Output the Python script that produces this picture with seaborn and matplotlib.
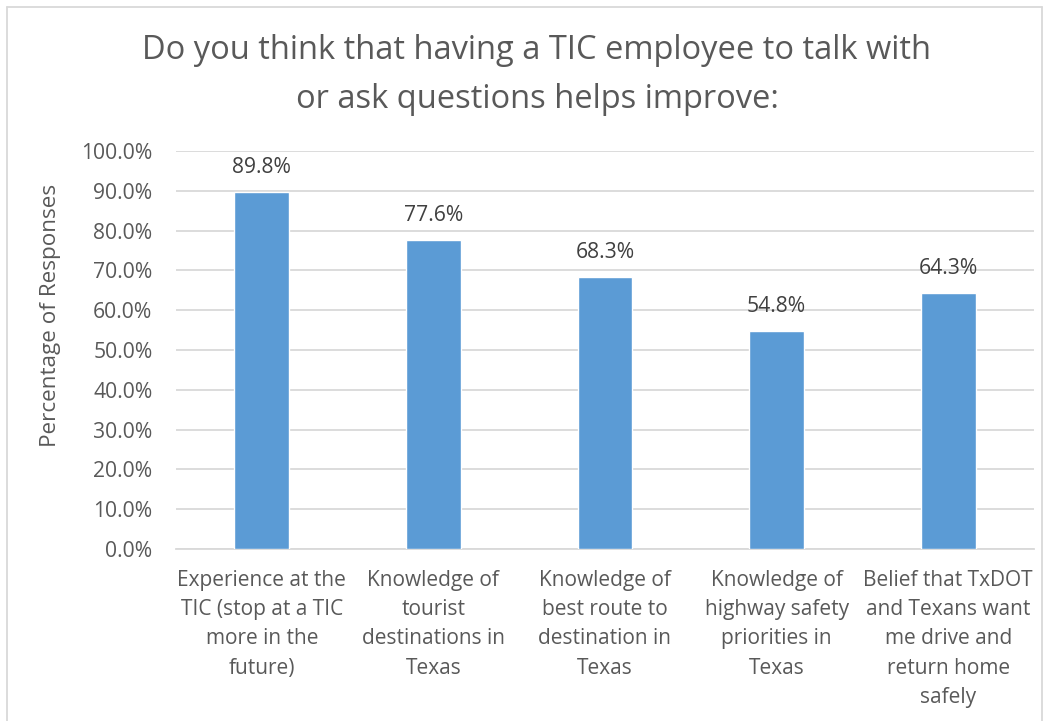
import matplotlib
matplotlib.use("Agg")
import matplotlib.pyplot as plt
from matplotlib.lines import Line2D
import seaborn as sns
import pandas as pd

categories = [
    "Experience at the\nTIC (stop at a TIC\nmore in the\nfuture)",
    "Knowledge of\ntourist\ndestinations in\nTexas",
    "Knowledge of\nbest route to\ndestination in\nTexas",
    "Knowledge of\nhighway safety\npriorities in\nTexas",
    "Belief that TxDOT\nand Texans want\nme drive and\nreturn home\nsafely",
]
values = [89.8, 77.6, 68.3, 54.8, 64.3]
yticks = [0, 10, 20, 30, 40, 50, 60, 70, 80, 90, 100]

title = "Do you think that having a TIC employee to talk with\nor ask questions helps improve:"
ylabel = "Percentage of Responses"

sns.set_style("white")
plt.rcParams["font.family"] = ["Open Sans", "DejaVu Sans"]

text_color = "#595959"
bar_color = "#5B9BD5"
grid_color = "#D9D9D9"

df = pd.DataFrame({"category": categories, "value": values})

fig = plt.figure(figsize=(10.5, 7.21), dpi=100)
ax = fig.add_axes([176 / 1050, 1 - 549 / 721, (1034 - 176) / 1050, (549 - 151) / 721])

sns.barplot(data=df, x="category", y="value", color=bar_color, width=0.32,
            saturation=1, ax=ax, zorder=3)

ax.set_ylim(0, 100)
ax.set_yticks(yticks)
ax.set_yticklabels([f"{t:.1f}%" for t in yticks], fontsize=15.2, color=text_color)
ax.yaxis.grid(True, color=grid_color, linewidth=1.3, zorder=0)
ax.set_axisbelow(True)
ax.tick_params(axis="both", length=0)
ax.tick_params(axis="y", pad=17)
ax.tick_params(axis="x", pad=15)
ax.set_xticks(range(len(categories)))
ax.set_xticklabels(categories, fontsize=15, color=text_color, linespacing=1.52)
ax.set_xlabel("")
ax.set_ylabel(ylabel, fontsize=16.2, color=text_color)
ax.yaxis.set_label_coords((61 - 176) / 858, (549 - 315) / 398)

for s in ["top", "right", "left"]:
    ax.spines[s].set_visible(False)
ax.spines["bottom"].set_color(grid_color)
ax.spines["bottom"].set_linewidth(1.3)

for container in ax.containers:
    ax.bar_label(container, labels=[f"{v:.1f}%" for v in values],
                 padding=10, fontsize=15.2, color="#404040")

fig.text(537 / 1050, 1 - 75 / 721, title, ha="center", va="center",
         fontsize=23.5, color=text_color, linespacing=1.62)

# chart frame
frame_kw = dict(color="#D9D9D9", linewidth=1.3, transform=fig.transFigure)
x0, x1 = 7 / 1050, 1042 / 1050
y_top = 1 - 7 / 721
fig.add_artist(Line2D([x0, x1], [y_top, y_top], **frame_kw))
fig.add_artist(Line2D([x0, x0], [0, y_top], **frame_kw))
fig.add_artist(Line2D([x1, x1], [0, y_top], **frame_kw))

fig.savefig("out.png", dpi=100)
